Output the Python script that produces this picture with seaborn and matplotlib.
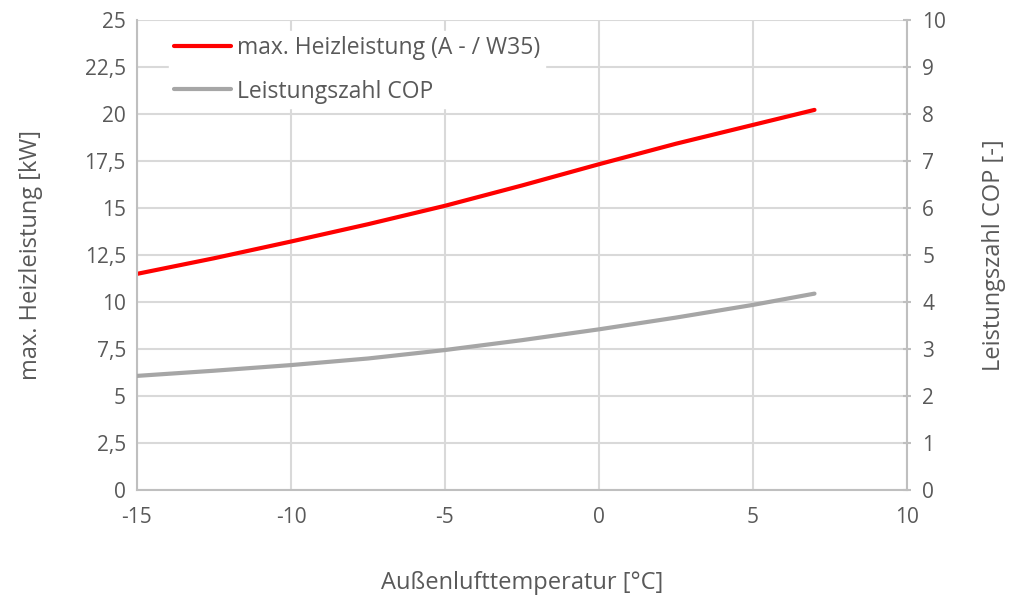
import matplotlib
matplotlib.use("Agg")
import matplotlib.pyplot as plt
import pandas as pd
import seaborn as sns
from matplotlib.ticker import FuncFormatter, MultipleLocator

# Aussenlufttemperatur [°C]
temps = [-15, -12.5, -10, -7.5, -5, -2.5, 0, 2.5, 5, 7]
# max. Heizleistung [kW]
heizleistung = [11.5, 12.33, 13.22, 14.14, 15.12, 16.2, 17.33, 18.42, 19.42, 20.22]
# Leistungszahl COP [-]
cop = [2.43, 2.54, 2.66, 2.80, 2.98, 3.19, 3.42, 3.67, 3.94, 4.18]

label_heiz = "max. Heizleistung (A - / W35)"
label_cop = "Leistungszahl COP"

df = pd.DataFrame({"temp": temps, "heiz": heizleistung, "cop": cop})

sns.set_style("white")
plt.rcParams["font.family"] = ["Open Sans", "DejaVu Sans"]
plt.rcParams["axes.unicode_minus"] = False
text_col = "#595959"
grid_col = "#d9d9d9"
spine_col = "#bfbfbf"

fig = plt.figure(figsize=(10.11, 5.97), dpi=100)
ax = fig.add_axes([0.1355, 0.179, 0.7615, 0.7875])
ax2 = ax.twinx()

sns.lineplot(data=df, x="temp", y="heiz", ax=ax, color="#ff0000", linewidth=3, label=label_heiz, legend=False)
sns.lineplot(data=df, x="temp", y="cop", ax=ax2, color="#a6a6a6", linewidth=3, label=label_cop, legend=False)

ax.set_xlim(-15, 10)
ax.set_ylim(0, 25)
ax2.set_ylim(0, 10)
ax.xaxis.set_major_locator(MultipleLocator(5))
ax.yaxis.set_major_locator(MultipleLocator(2.5))
ax2.yaxis.set_major_locator(MultipleLocator(1))
comma = FuncFormatter(lambda v, p: f"{v:g}".replace(".", ","))
ax.yaxis.set_major_formatter(comma)
ax2.yaxis.set_major_formatter(comma)

ax.grid(True, color=grid_col, linewidth=1.5)
ax.set_axisbelow(True)

for a in (ax, ax2):
    for s in a.spines.values():
        s.set_visible(False)
    a.tick_params(colors=text_col, labelsize=15)
ax.spines["left"].set_visible(True)
ax.spines["left"].set_color(spine_col)
ax.spines["left"].set_linewidth(1.5)
ax.spines["bottom"].set_visible(True)
ax.spines["bottom"].set_color(spine_col)
ax.spines["bottom"].set_linewidth(1.5)
ax2.spines["right"].set_visible(True)
ax2.spines["right"].set_color(spine_col)
ax2.spines["right"].set_linewidth(1.5)

ax.tick_params(axis="both", length=0, pad=8)
ax.tick_params(axis="x", pad=12)
ax2.tick_params(axis="y", length=6, width=1.5, color=spine_col, direction="inout", pad=8)

ax.set_xlabel("Außenlufttemperatur [°C]", fontsize=17, color=text_col, labelpad=31)
ax.set_ylabel("max. Heizleistung [kW]", fontsize=17, color=text_col, labelpad=30)
ax2.set_ylabel("Leistungszahl COP [-]", fontsize=17, color=text_col, labelpad=26)

h1, l1 = ax.get_legend_handles_labels()
h2, l2 = ax2.get_legend_handles_labels()
ax2.legend(h1 + h2, l1 + l2, loc="upper left", bbox_to_anchor=(0.027, 1.0),
           frameon=True, facecolor="white", edgecolor="white", framealpha=1,
           fontsize=16.5, labelcolor=text_col, handlelength=2.5, handletextpad=0.25,
           labelspacing=0.85, borderpad=0.2)

fig.savefig("out.png", dpi=100)
